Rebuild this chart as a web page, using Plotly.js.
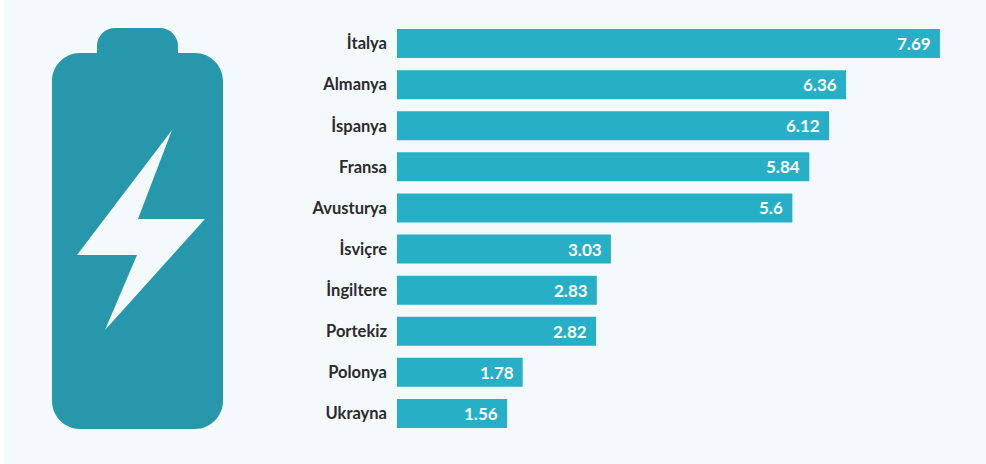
<!DOCTYPE html>
<html><head><meta charset="utf-8">
<script src="https://cdn.plot.ly/plotly-3.0.1.min.js"></script>
<style>html,body{margin:0;padding:0;background:#fff}#c{width:986px;height:464px}</style>
</head><body><div id="c"></div>
<script>
const countries = ["İtalya","Almanya","İspanya","Fransa","Avusturya","İsviçre","İngiltere","Portekiz","Polonya","Ukrayna"];
const values = [7.69,6.36,6.12,5.84,5.6,3.03,2.83,2.82,1.78,1.56];
const valueLabels = ["7.69","6.36","6.12","5.84","5.6","3.03","2.83","2.82","1.78","1.56"];

const W = 986, H = 464;
const FONT = 'Lato,"Liberation Sans",sans-serif';
const m = {l:397, r:24, t:23, b:30};
const px = x => (x - m.l) / (W - m.l - m.r);
const py = y => 1 - (y - m.t) / (H - m.t - m.b);
const P = (x,y) => px(x).toFixed(5) + ' ' + py(y).toFixed(5);
const C = (a,b,c,d,e,f) => ' C'+P(a,b)+' '+P(c,d)+' '+P(e,f);
const batteryPath = 'M'+P(52,81)+C(52,65.6,64.6,53,80,53)+' L'+P(97,53)+' L'+P(97,46)+C(97,36,105,28,115,28)+
  ' L'+P(160,28)+C(170,28,178,36,178,46)+' L'+P(178,53)+' L'+P(195,53)+C(210.4,53,223,65.6,223,81)+
  ' L'+P(223,401)+C(223,416.4,210.4,429,195,429)+' L'+P(80,429)+C(64.6,429,52,416.4,52,401)+' Z';
const boltPath = 'M'+[[172,130],[138,219],[205,219],[105,330],[137,255],[77,255]].map(p=>P(p[0],p[1])).join(' L')+' Z';

const trace = {
  type:'bar', orientation:'h', x:values, y:countries, width:0.705,
  marker:{color:'#26afc6', line:{width:0}},
  hoverinfo:'skip'
};
const annotations = values.map((v,i)=>({
  x:v, y:countries[i], xref:'x', yref:'y', text:valueLabels[i], showarrow:false,
  xanchor:'right', xshift:-9, yshift:0, borderpad:0, borderwidth:0,
  font:{family:FONT, size:17, color:'#ffffff', weight:700}
}));
const layout = {
  width:W, height:H, margin:m, showlegend:false,
  paper_bgcolor:'#ffffff', plot_bgcolor:'rgba(0,0,0,0)',
  xaxis:{range:[0,8.003], visible:false, fixedrange:true},
  yaxis:{type:'category', categoryorder:'array', categoryarray:countries, autorange:'reversed',
    showgrid:false, zeroline:false, showline:false, ticks:'', ticklabelstandoff:9,
    tickfont:{family:FONT, size:16.5, color:'#2b2a2c', weight:700}, fixedrange:true},
  annotations:annotations,
  shapes:[
    {type:'rect', xref:'paper', yref:'paper', x0:px(4), x1:px(986), y0:py(0), y1:py(464), fillcolor:'#f4f9fc', line:{width:0}, layer:'below'},
    {type:'path', xref:'paper', yref:'paper', path:batteryPath, fillcolor:'#2797ab', line:{width:0}, layer:'below'},
    {type:'path', xref:'paper', yref:'paper', path:boltPath, fillcolor:'#f4f9fc', line:{width:0}, layer:'below'}
  ]
};
Plotly.newPlot('c',[trace],layout,{displayModeBar:false,staticPlot:true});
</script></body></html>
